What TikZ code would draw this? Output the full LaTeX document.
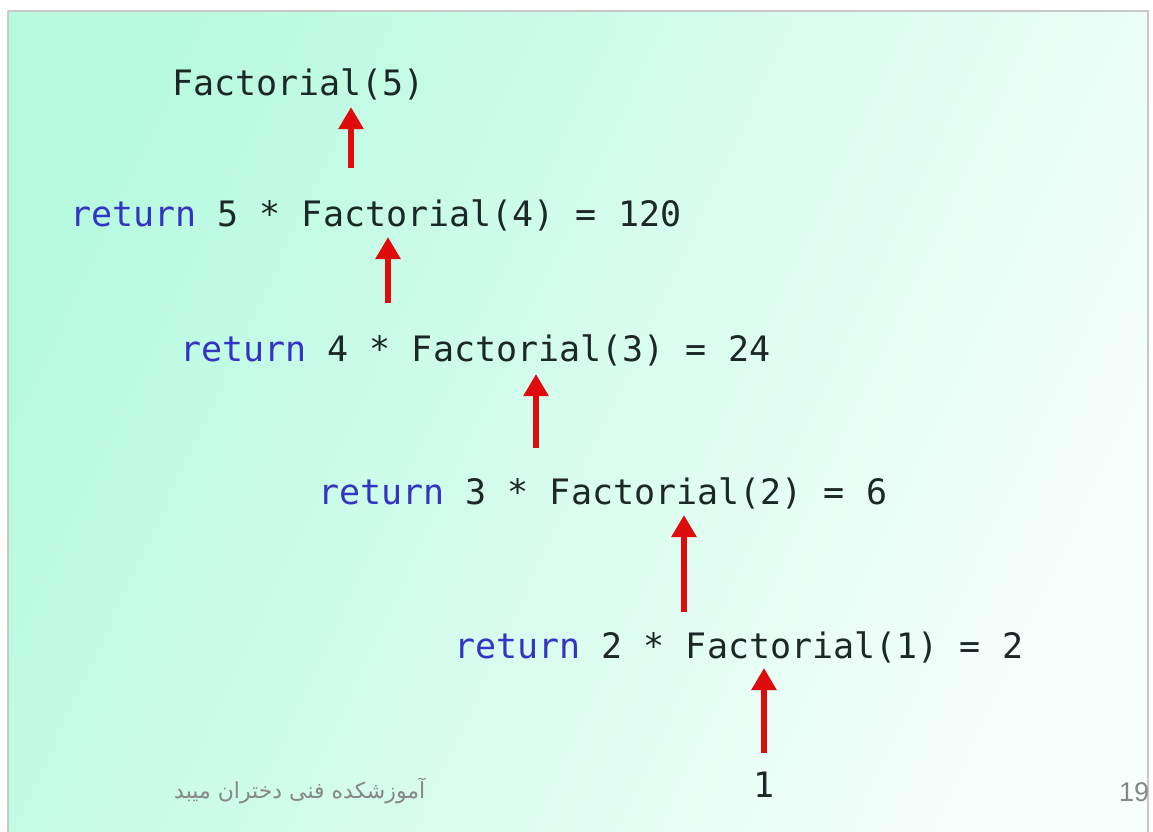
\documentclass[tikz,border=0pt]{standalone}
\usepackage{fontspec}
\usetikzlibrary{arrows.meta}
\TeXXeTstate=1
\newfontfamily\codefont{DejaVu Sans Mono}
\newfontfamily\arabicfont[Script=Arabic]{DejaVu Sans}
\newfontfamily\numfont{Liberation Sans}
\definecolor{kwblue}{RGB}{52,52,196}
\definecolor{codetext}{RGB}{28,40,40}
\definecolor{arrowred}{RGB}{222,12,12}
\definecolor{mintA}{RGB}{184,250,224}
\definecolor{mintB}{RGB}{246,255,252}
\definecolor{framegray}{RGB}{200,200,200}
\definecolor{footgray}{RGB}{135,135,135}
\tikzset{
  codeline/.style={anchor=base west, inner sep=0pt, text=codetext,
    font=\codefont\fontsize{35bp}{40bp}\selectfont},
  retarrow/.style={draw=arrowred, line width=6bp,
    -{Triangle[width=24bp,length=22bp]}},
  footer/.style={inner sep=0pt, text=footgray}
}
\newcommand{\kw}[1]{\textcolor{kwblue}{#1}}
\begin{document}
\begin{tikzpicture}[x=1bp,y=-1bp]
\useasboundingbox (0,0) rectangle (1153,832);
\clip (0,0) rectangle (1153,832);
\fill[white] (0,0) rectangle (1153,832);
\shade[left color=mintA, right color=mintB, shading angle=65] (9,12) rectangle (1147,840);
\draw[framegray, line width=1.5bp] (8,11) -- (1148,11) -- (1148,840);
\draw[framegray, line width=1.5bp] (8,11) -- (8,840);

\node[codeline] (f5) at (172,95) {Factorial(5)};
\node[codeline] (l4) at (70,226) {\kw{return} 5 * Factorial(4) = 120};
\node[codeline] (l3) at (180,361) {\kw{return} 4 * Factorial(3) = 24};
\node[codeline] (l2) at (318,504) {\kw{return} 3 * Factorial(2) = 6};
\node[codeline] (l1) at (454,658) {\kw{return} 2 * Factorial(1) = 2};
\node[codeline] (one) at (753,797) {1};

\coordinate (a1s) at (351,168); \coordinate (a1e) at (351,107);
\coordinate (a2s) at (388,303); \coordinate (a2e) at (388,237);
\coordinate (a3s) at (536,448); \coordinate (a3e) at (536,374);
\coordinate (a4s) at (684,612); \coordinate (a4e) at (684,515);
\coordinate (a5s) at (764,753); \coordinate (a5e) at (764,668);
\draw[retarrow] (a1s) -- (a1e);
\draw[retarrow] (a2s) -- (a2e);
\draw[retarrow] (a3s) -- (a3e);
\draw[retarrow] (a4s) -- (a4e);
\draw[retarrow] (a5s) -- (a5e);

\node[footer, anchor=base west, font=\arabicfont\fontsize{22bp}{26bp}\selectfont] (foot) at (174,798) {\beginR آموزشکده فنی دختران میبد\endR};
\node[footer, anchor=base west, font=\numfont\fontsize{27bp}{32bp}\selectfont] (page) at (1119,801) {19};
\end{tikzpicture}
\end{document}
